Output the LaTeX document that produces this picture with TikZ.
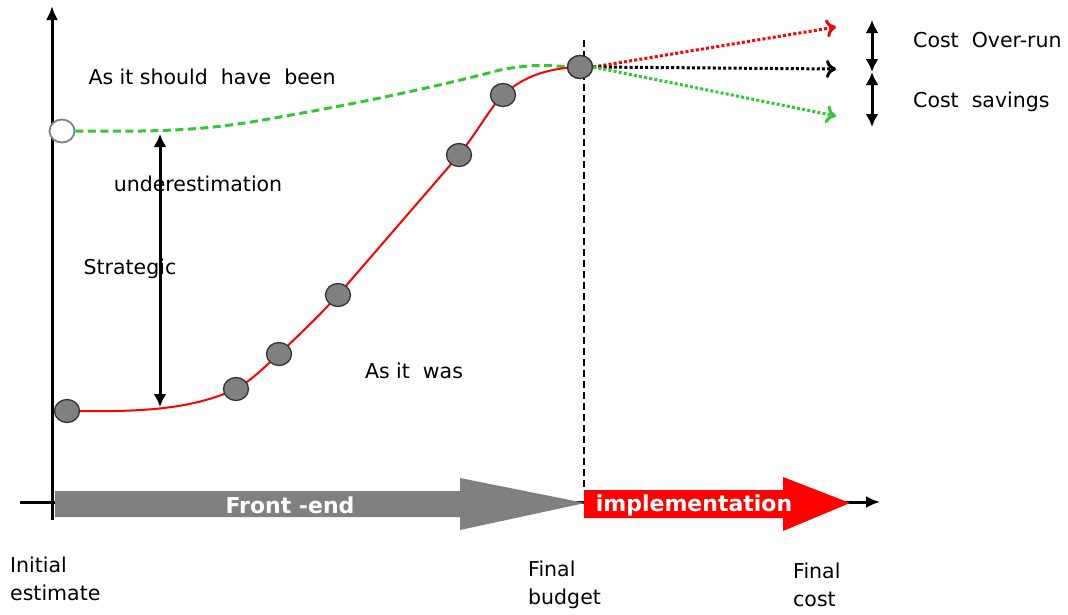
\documentclass[tikz,border=0pt]{standalone}
\usepackage{fontspec}
\setmainfont{DejaVu Sans}
\usetikzlibrary{arrows.meta,shapes.geometric}
\definecolor{dgreen}{RGB}{50,200,50}
\definecolor{cgray}{RGB}{128,128,128}
\begin{document}
\begin{tikzpicture}[x=1pt,y=-1pt,
  lbl/.style={font=\fontsize{20.5}{24}\selectfont, inner sep=0pt},
  blbl/.style={font=\fontsize{22}{26}\selectfont\bfseries, text=white, inner sep=0pt},
  dot/.style={ellipse, draw=black!80, fill=cgray, minimum width=25pt, minimum height=23pt, inner sep=0pt, line width=1.3pt},
  opendot/.style={ellipse, draw=cgray, fill=white, minimum width=25pt, minimum height=23pt, inner sep=0pt, line width=1.8pt},
  dotarrow/.style={line width=3pt, dash pattern=on 3pt off 2.2pt, -{To[length=10pt,width=18pt,line width=3pt]}},
  dblarrow/.style={line width=3pt, {Latex[length=13pt,width=13pt]}-{Latex[length=13pt,width=13pt]}}
]
\useasboundingbox (0,0) rectangle (1068,614);
% axes
\coordinate (yb) at (52,520);
\coordinate (yt) at (52,6);
\coordinate (xl) at (20,502);
\coordinate (xr) at (880,502);
\draw[line width=3pt, -{Latex[length=14pt,width=12pt]}] (yb) -- (yt);
\draw[line width=3pt, -{Latex[length=14pt,width=12pt]}] (xl) -- (xr);
% big arrows
\fill[cgray] (55,491) -- (460,491) -- (460,478) -- (585,503) -- (460,530) -- (460,517) -- (55,517) -- cycle;
\node[blbl] (fe) at (290,505) {Front -end};
\fill[red] (584,490) -- (783,490) -- (783,477) -- (850,503) -- (783,531) -- (783,518) -- (584,518) -- cycle;
\node[blbl] (impl) at (694,505) {implementation};
% vertical dashed line
\coordinate (vt) at (584,40);
\coordinate (vb) at (584,490);
\draw[line width=2.8pt, dash pattern=on 7pt off 4pt] (vt) -- (vb);
% curves
\node[opendot] (o0) at (62,131) {};
\node[dot] (c7) at (580,67) {};
\draw[dgreen, line width=3pt, dash pattern=on 8pt off 4.5pt] (o0.east) .. controls (170,132) and (210,130) .. (280,117) .. controls (360,103) and (440,86) .. (500,70) .. controls (530,64) and (550,65) .. (c7.west);
\draw[red, line width=2pt] (67,411) .. controls (140,412) and (190,410) .. (236,389)
  .. controls (255,378) and (265,366) .. (279,354)
  .. controls (300,334) and (320,315) .. (338,295)
  .. controls (390,235) and (420,200) .. (459,155)
  .. controls (480,128) and (490,108) .. (503,95)
  .. controls (525,75) and (550,68) .. (580,67);
\node[dot] (c1) at (67,411) {};
\node[dot] (c2) at (236,389) {};
\node[dot] (c3) at (279,354) {};
\node[dot] (c4) at (338,295) {};
\node[dot] (c5) at (459,155) {};
\node[dot] (c6) at (503,95) {};
\node[dot] at (580,67) {};
% underestimation arrow
\coordinate (ua) at (160,134);
\coordinate (ub) at (160,407);
\draw[dblarrow] (ua) -- (ub);
% labels
\node[lbl] (t1) at (212,77) {As it should\ \ have\ \ been};
\node[lbl] (t2) at (198,184) {underestimation};
\node[lbl] (t3) at (130,269) {Strategic};
\node[lbl] (t4) at (414,371) {As it\ \ was};
% outcome arrows
\coordinate (ar) at (836,27);
\coordinate (ak) at (836,69);
\coordinate (ag) at (836,116);
\draw[dotarrow, red] (c7.east) -- (ar);
\draw[dotarrow, black] (c7.east) -- (ak);
\draw[dotarrow, dgreen] (c7.east) -- (ag);
\coordinate (d1) at (872,20);
\coordinate (d2) at (872,72);
\coordinate (d3) at (872,127);
\draw[dblarrow] (d1) -- (d2);
\draw[dblarrow] (d2) -- (d3);
\node[lbl, anchor=west] (co) at (913,40) {Cost\ \ Over-run};
\node[lbl, anchor=west] (cs) at (913,102) {Cost\ \ savings};
% bottom labels
\node[lbl, anchor=north west, align=left, font=\fontsize{20.5}{28}\selectfont] (ie) at (10,557) {Initial\\estimate};
\node[lbl, anchor=north west, align=left, font=\fontsize{20.5}{28}\selectfont] (fb) at (528,561) {Final\\budget};
\node[lbl, anchor=north west, align=left, font=\fontsize{20.5}{28}\selectfont] (fc) at (793,563) {Final\\cost};
\end{tikzpicture}
\end{document}
